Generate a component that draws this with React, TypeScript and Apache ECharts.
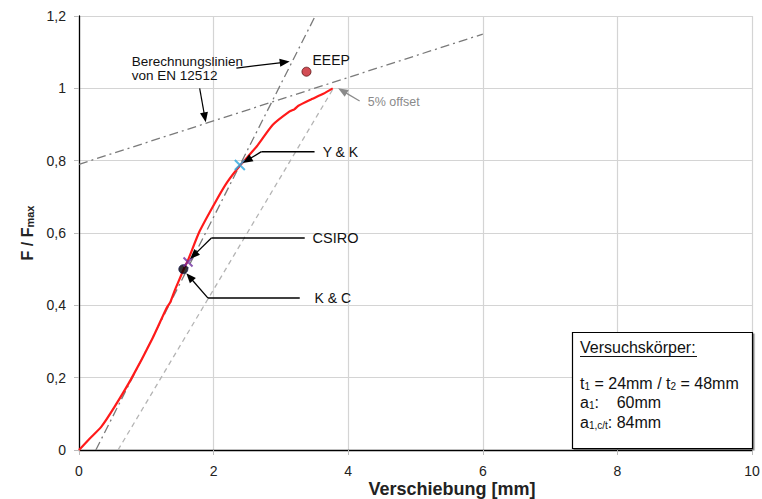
import React, { useEffect, useRef } from "react";
import * as echarts from "echarts";

// Measured load–displacement curve (Verschiebung [mm], F/Fmax)
const curveX = [0, 0.15, 0.33, 0.53, 0.78, 1.08, 1.3, 1.36, 1.42, 1.52, 1.56, 1.62, 1.79, 2.04, 2.2, 2.39, 2.64, 2.88, 3.13, 3.2, 3.26, 3.43, 3.63, 3.77];
const curveY = [0, 0.03, 0.064, 0.12, 0.198, 0.304, 0.392, 0.41, 0.44, 0.484, 0.502, 0.525, 0.604, 0.69, 0.74, 0.786, 0.839, 0.899, 0.936, 0.942, 0.952, 0.968, 0.985, 1.0];

// EN 12512 calculation lines (dash-dot)
const steepLineX = [0.25, 3.6];
const steepLineY = [0, 1.233];
const flatLineX = [0, 6];
const flatLineY = [0.79, 1.15];

// 5 % offset line (dashed)
const offsetLineX = [0.58, 3.78];
const offsetLineY = [0, 1.0];

// Characteristic points
const eeepPoint = [3.38, 1.046];
const ykPoint = [2.39, 0.788];
const csiroPoint = [1.62, 0.52];
const kcPoint = [1.55, 0.5];

// Axis ticks
const xTicks = [0, 2, 4, 6, 8, 10];
const yTicks = [0, 0.2, 0.4, 0.6, 0.8, 1.0, 1.2];

const xAxisTitle = "Verschiebung [mm]";

const FONT = "Liberation Sans, Arial, sans-serif";

const zip = (xs: number[], ys: number[]) => xs.map((x, i) => [x, ys[i]]);

export default function App() {
  const ref = useRef<HTMLDivElement>(null);

  useEffect(() => {
    if (!ref.current) return;
    const chart = echarts.init(ref.current, null, { renderer: "svg" });

    const xPath = "path://M0,0L10,10M10,0L0,10";

    chart.setOption({
      animation: false,
      backgroundColor: "#ffffff",
      grid: { left: 79, width: 673, top: 16, height: 434, containLabel: false, outerBoundsMode: "none" },
      xAxis: {
        type: "value",
        min: xTicks[0],
        max: xTicks[xTicks.length - 1],
        interval: 2,
        axisLine: { show: true, onZero: false, lineStyle: { color: "#000", width: 1.3 } },
        axisTick: { show: true, length: 5, lineStyle: { color: "#bbb" } },
        axisLabel: { fontFamily: FONT, fontSize: 14, color: "#222", margin: 14 },
        splitLine: { show: true, lineStyle: { color: "#d4d4d4", width: 1.2 } },
      },
      yAxis: {
        type: "value",
        min: yTicks[0],
        max: yTicks[yTicks.length - 1],
        interval: 0.2,
        name: "{m|F / F}{s|max}",
        nameLocation: "middle",
        nameGap: 36,
        nameRotate: 90,
        nameTextStyle: {
          rich: {
            m: { fontFamily: FONT, fontSize: 16, fontWeight: "bold", color: "#222" },
            s: { fontFamily: FONT, fontSize: 11, fontWeight: "bold", color: "#222", padding: [6, 0, 0, 0] },
          },
        },
        axisLine: { show: true, onZero: false, lineStyle: { color: "#000", width: 1.3 } },
        axisTick: { show: true, length: 5, lineStyle: { color: "#bbb" } },
        axisLabel: {
          fontFamily: FONT,
          fontSize: 14,
          color: "#222",
          margin: 13,
          formatter: (v: number) => String(Math.round(v * 10) / 10).replace(".", ","),
        },
        splitLine: { show: true, lineStyle: { color: "#d4d4d4", width: 1.2 } },
      },
      series: [
        {
          type: "line",
          data: zip(offsetLineX, offsetLineY),
          symbol: "none",
          lineStyle: { color: "#b4b4b4", width: 1.3, type: [5, 4] },
          z: 2,
        },
        {
          type: "line",
          data: zip(steepLineX, steepLineY),
          symbol: "none",
          lineStyle: { color: "#7a7a7a", width: 1.3, type: [9, 4, 2, 4] },
          z: 2,
        },
        {
          type: "line",
          data: zip(flatLineX, flatLineY),
          symbol: "none",
          lineStyle: { color: "#7a7a7a", width: 1.3, type: [9, 4, 2, 4] },
          z: 2,
        },
        {
          type: "line",
          data: zip(curveX, curveY),
          symbol: "none",
          smooth: 0.2,
          lineStyle: { color: "#ff1a1a", width: 2.2 },
          z: 3,
        },
        {
          type: "scatter",
          data: [eeepPoint],
          symbol: "circle",
          symbolSize: 9,
          itemStyle: { color: "#c8202a", borderColor: "#5a1010", borderWidth: 1 },
          z: 5,
        },
        {
          type: "scatter",
          data: [kcPoint],
          symbol: "circle",
          symbolSize: 9,
          itemStyle: { color: "#000", borderColor: "#1a1a50", borderWidth: 1 },
          z: 5,
        },
        {
          type: "scatter",
          data: [csiroPoint],
          symbol: xPath,
          symbolSize: 9,
          itemStyle: { color: "none", borderColor: "#7030a0", borderWidth: 2 },
          z: 5,
        },
        {
          type: "scatter",
          data: [ykPoint],
          symbol: xPath,
          symbolSize: 10,
          itemStyle: { color: "none", borderColor: "#2aa8e0", borderWidth: 2 },
          z: 5,
        },
      ],
    });

    const px = (p: number[]) => chart.convertToPixel({ gridIndex: 0 }, p) as number[];

    const arrow = (from: number[], to: number[], color: string, width = 1.3) => {
      const dx = to[0] - from[0];
      const dy = to[1] - from[1];
      const len = Math.sqrt(dx * dx + dy * dy) || 1;
      const ux = dx / len;
      const uy = dy / len;
      const L = 10;
      const W = 4;
      const bx = to[0] - ux * L;
      const by = to[1] - uy * L;
      return [
        {
          type: "line",
          shape: { x1: from[0], y1: from[1], x2: bx + ux * 2, y2: by + uy * 2 },
          style: { stroke: color, lineWidth: width },
          z: 20,
        },
        {
          type: "polygon",
          shape: { points: [to, [bx - uy * W, by + ux * W], [bx + uy * W, by - ux * W]] },
          style: { fill: color },
          z: 20,
        },
      ];
    };
    const seg = (a: number[], b: number[], color = "#000", width = 1.5) => ({
      type: "line",
      shape: { x1: a[0], y1: a[1], x2: b[0], y2: b[1] },
      style: { stroke: color, lineWidth: width },
      z: 20,
    });
    const label = (p: number[], text: string, size = 14, color = "#111") => ({
      type: "text",
      x: p[0],
      y: p[1],
      style: { text, fill: color, font: `${size}px ${FONT}`, verticalAlign: "middle", align: "left" },
      z: 21,
    });

    const yk = px(ykPoint);
    const ykH1 = px([3.5, 0.825]);
    const ykH0 = px([2.71, 0.825]);
    const cs = px(csiroPoint);
    const csH1 = px([3.354, 0.586]);
    const csH0 = px([1.967, 0.586]);
    const kc = px(kcPoint);
    const kcH1 = px([3.28, 0.42]);
    const kcH0 = px([1.917, 0.42]);

    const rich = {
      n: { font: `16px ${FONT}`, fill: "#111", verticalAlign: "bottom", lineHeight: 18 },
      s: { font: `10px ${FONT}`, fill: "#111", verticalAlign: "bottom", lineHeight: 13 },
    };

    const noteAt = px([0.785, 1.055]);

    const graphics: any[] = [
      {
        type: "text",
        x: 452,
        y: 489,
        style: {
          text: xAxisTitle,
          fill: "#222",
          font: `bold 18px ${FONT}`,
          align: "center",
          verticalAlign: "middle",
        },
        z: 21,
      },
      seg(ykH0, ykH1),
      ...arrow(ykH0, [yk[0] + 3, yk[1] - 2], "#000"),
      label(px([3.62, 0.825]), "Y & K"),
      seg(csH0, csH1),
      ...arrow(csH0, [cs[0] + 2, cs[1] - 3], "#000"),
      label(px([3.47, 0.586]), "CSIRO", 14.5),
      seg(kcH0, kcH1),
      ...arrow(kcH0, [kc[0] + 3, kc[1] + 4], "#000"),
      label(px([3.5, 0.42]), "K & C"),
      label(px([3.47, 1.079]), "EEEP"),
      {
        type: "text",
        x: noteAt[0],
        y: noteAt[1],
        style: {
          text: "Berechnungslinien\nvon EN 12512",
          fill: "#111",
          font: `13.5px ${FONT}`,
          lineHeight: 14,
          verticalAlign: "middle",
          align: "left",
        },
        z: 21,
      },
      ...arrow(px([2.339, 1.056]), px([3.131, 1.074]), "#000", 1.2),
      ...arrow(px([1.793, 1.0]), px([1.883, 0.906]), "#000", 1.2),
      ...arrow(px([4.17, 0.965]), px([3.85, 1.0]), "#8a8a8a", 1.2),
      label(px([4.29, 0.962]), "5% offset", 12.5, "#8a8a8a"),
      {
        type: "rect",
        shape: { x: 572.5, y: 332.5, width: 180, height: 116 },
        style: { fill: "#fff", stroke: "#000", lineWidth: 1.2, shadowColor: "rgba(0,0,0,0.45)", shadowOffsetX: 1.5, shadowOffsetY: 1.5, shadowBlur: 0 },
        z: 30,
      },
      {
        type: "text",
        x: 580,
        y: 347,
        style: { text: "Versuchskörper:", fill: "#111", font: `16px ${FONT}`, verticalAlign: "middle" },
        z: 31,
      },
      { type: "line", shape: { x1: 580, y1: 356.5, x2: 697, y2: 356.5 }, style: { stroke: "#111", lineWidth: 1 }, z: 31 },
      {
        type: "text",
        x: 580,
        y: 382,
        style: { text: "{n|t}{s|1}{n| = 24mm / t}{s|2}{n| = 48mm}", rich, verticalAlign: "middle" },
        z: 31,
      },
      {
        type: "text",
        x: 580,
        y: 401,
        style: { text: "{n|a}{s|1}{n|:    60mm}", rich, verticalAlign: "middle" },
        z: 31,
      },
      {
        type: "text",
        x: 580,
        y: 421,
        style: { text: "{n|a}{s|1,c/t}{n|: 84mm}", rich, verticalAlign: "middle" },
        z: 31,
      },
    ];

    chart.setOption({ graphic: graphics });

    return () => chart.dispose();
  }, []);

  return <div ref={ref} style={{ width: 762, height: 499, position: "absolute", left: 0, top: 0 }} />;
}
